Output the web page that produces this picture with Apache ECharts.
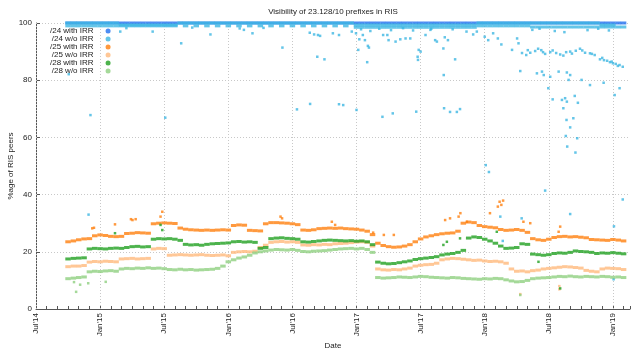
<!DOCTYPE html>
<html>
<head>
<meta charset="utf-8">
<script src="https://cdn.jsdelivr.net/npm/echarts@6/dist/echarts.min.js"></script>
<style>
    html, body { margin: 0; padding: 0; background: #fff; }
    #main { width: 640px; height: 352px; }
</style>
</head>
<body>
<div id="main"></div>
<script>
    // one sample on the 1st and the 16th of each month, i=0 is 1 Oct 2014, i=104 is 1 Feb 2019
    // x axis is counted in months since Jul 2014
    var firstSampleMonth = 3;
    var monthNames = ['Jan','Feb','Mar','Apr','May','Jun','Jul','Aug','Sep','Oct','Nov','Dec'];
    var gridMonths = [0, 6, 12, 18, 24, 30, 36, 42, 48, 54];

    var names = ['/24 with IRR', '/24 w/o IRR', '/25 with IRR', '/25 w/o IRR', '/28 with IRR', '/28 w/o IRR'];
    var colors = ['#1f6ff0', '#3db6e2', '#ff7f0e', '#ffb97c', '#21a021', '#8fd07f'];

    var with24 = [
        100,100,100,100,100,100,100,100,100,100,100,100,100,100,100,100,100,100,100,100,100,
        100,100,100,100,100,100,100,100,100,100,100,100,100,100,100,100,100,100,100,100,100,
        100,100,100,100,100,100,100,100,100,100,100,100,100,100,100,100,100,100,100,100,100,
        100,100,100,100,100,100,100,100,100,100,100,100,100,100,100,100,100,100,100,100,100,
        100,100,100,100,100,100,100,100,100,100,100,100,100,100,100,100,100,100,100,100,100
    ];
    var without24 = [
        100,100,100,100,100,100,100,100,100,100,99.3,99.3,99.3,99.3,99.3,99.3,99.3,99.3,99.3,99.3,99.3,
        100,100,100,100,100,100,100,100,100,100,100,100,100,100,100,100,100,100,100,100,100,
        100,100,100,100,100,100,100,100,100,100,100,100,99.3,99.3,99.3,99.3,99.3,99.3,99.3,99.3,99.3,
        99.3,99.3,99.3,99.3,99.3,99.3,99.3,99.3,99.3,99.3,99.3,99.3,99.3,99.3,100,100,100,100,100,
        100,100,100,100,100,100,100,100,100,100,100,100,100,100,100,100,100,100,99.3,99.3,99.3
    ];
    var without24Low = [
        99.0,99.0,99.0,99.0,99.0,99.0,99.0,99.0,99.0,99.0,99.0,99.0,99.0,99.0,99.0,99.0,99.0,99.0,99.0,99.0,99.0,
        null,99.0,null,99.0,null,99.0,null,99.0,null,99.0,null,99.0,null,99.0,null,99.0,null,99.0,null,99.0,null,
        99.0,null,99.0,null,99.0,null,99.0,null,99.0,null,99.0,null,98.5,98.5,98.5,98.5,98.5,98.5,98.5,98.5,98.5,
        98.5,98.5,98.5,98.5,98.5,98.5,98.5,98.5,98.5,98.5,98.5,98.5,98.5,98.5,99.0,99.0,99.0,99.0,99.0,
        99.0,99.0,99.0,99.0,99.0,98.6,98.6,98.6,98.6,98.6,98.6,98.6,98.6,98.6,98.6,98.6,98.6,98.6,98.6,98.6,98.6,98.6,98.6
    ];
    var with25 = [
        23.5,23.8,24.2,24.5,24.6,25.6,25.9,25.7,25.4,25.3,25.4,26.4,26.5,26.7,26.6,26.5,
        29.8,30.0,30.1,30.0,29.9,28.3,27.9,27.7,27.6,27.5,27.6,27.5,27.6,27.7,27.6,
        29.2,29.4,29.3,27.5,27.4,27.3,29.8,30.2,30.2,30.1,30.0,29.8,29.5,27.6,27.5,27.7,
        28.1,28.2,28.3,28.2,28.3,28.1,28.0,27.9,27.6,27.2,26.0,
        23.0,22.2,21.8,21.6,21.7,22.0,22.5,23.5,24.5,25.2,25.6,26.0,26.3,26.5,26.6,27.2,
        30.0,30.4,30.2,29.2,28.8,28.6,28.4,27.8,27.5,27.6,27.8,27.5,26.8,
        24.6,24.2,24.0,24.4,25.0,25.3,25.4,25.2,25.3,25.1,24.9,24.3,24.2,24.1,24.0,24.3,24.1,23.8
    ];
    var without25 = [
        14.8,15.0,15.0,15.2,16.4,16.6,16.5,16.7,16.6,16.5,17.5,17.6,17.7,17.5,17.6,17.7,
        21.0,21.2,21.1,18.8,18.9,19.0,18.9,18.8,18.9,19.0,18.8,18.7,18.8,18.9,18.6,
        19.8,20.0,20.1,20.0,20.2,21.5,22.3,23.3,23.5,23.6,23.4,23.5,23.3,
        22.4,22.3,22.5,22.4,22.6,22.5,22.8,22.9,23.0,23.2,23.4,23.5,23.3,22.0,
        14.0,13.7,13.6,13.8,13.7,14.0,14.3,15.0,15.3,15.5,15.6,16.0,17.2,17.5,17.7,17.6,17.4,
        17.2,17.0,17.1,16.8,16.6,16.7,16.5,16.0,14.0,13.2,13.3,13.0,13.4,13.6,
        14.0,14.2,14.4,14.6,14.8,14.7,14.5,14.3,13.5,13.2,13.0,14.0,14.3,14.2,14.1,13.8
    ];
    var with28 = [
        17.5,17.7,17.8,17.9,21.0,21.2,21.1,21.0,21.2,21.3,21.2,21.5,21.8,21.9,21.7,21.8,
        24.4,24.6,24.5,24.6,24.4,24.0,22.6,22.4,22.5,22.3,22.6,22.8,22.9,23.0,23.1,
        23.5,23.6,23.4,23.5,23.3,21.2,21.5,24.6,24.8,24.9,24.7,24.6,24.4,
        23.5,23.4,23.6,23.8,24.0,24.1,24.0,23.9,23.8,23.9,23.7,23.8,23.5,22.5,
        16.4,16.0,15.8,15.9,16.2,16.5,16.8,17.3,17.6,17.8,18.0,18.3,18.9,19.2,19.4,19.8,20.5,
        24.8,25.2,25.0,24.4,23.8,23.0,22.0,21.2,21.3,21.5,22.8,22.6,
        19.2,19.0,18.8,19.0,19.4,19.6,19.5,19.8,20.3,20.1,20.0,19.8,19.4,19.6,19.5,19.7,19.5,19.3
    ];
    var without28 = [
        10.6,10.8,11.0,11.2,13.0,13.2,13.1,13.3,13.4,13.2,
        14.0,14.2,14.1,14.3,14.2,14.4,14.2,14.3,14.1,
        13.8,13.7,13.9,13.7,13.8,13.6,13.7,13.8,13.9,14.2,15.0,
        16.5,17.2,17.8,18.2,18.8,19.6,20.0,20.3,20.6,20.8,20.7,20.6,20.8,20.5,
        20.1,20.0,20.2,20.3,20.4,20.6,20.8,21.0,21.1,21.2,21.0,21.2,20.8,19.8,
        11.0,10.8,10.9,11.0,11.2,11.1,11.0,11.2,11.4,11.3,11.1,11.0,10.9,10.8,11.0,10.9,10.7,
        10.6,10.5,10.4,10.6,10.5,10.7,10.6,10.2,9.8,9.5,9.6,10.0,10.6,10.8,10.9,11.0,11.2,
        11.4,11.3,11.5,11.3,11.2,11.4,11.3,11.2,11.4,11.3,11.1,11.2,11.0
    ];

    // single days away from the main tracks
    var without24Dots = [
        ['2014-10-03',82.1],['2014-12-04',67.8],['2014-11-29',33.0],['2015-02-28',97.0],['2015-03-15',98.2],
        ['2015-05-29',97.0],['2015-07-04',66.9],['2015-08-19',92.9],['2015-09-20',98.4],['2015-11-11',96.0],
        ['2016-02-03',98.1],['2016-02-15',97.6],['2016-03-09',96.4],['2016-04-10',98.3],['2016-06-03',91.4],
        ['2016-07-14',69.8],['2016-08-21',71.7],['2016-08-20',96.6],['2016-09-02',96.0],['2016-09-13',95.8],
        ['2016-09-19',95.5],['2016-09-11',88.2],['2016-10-01',87.3],['2016-10-25',96.4],['2016-11-12',95.8],
        ['2016-11-24',71.3],['2016-11-12',71.6],['2016-12-18',97.0],['2016-12-30',96.4],['2017-01-09',94.3],
        ['2017-01-01',69.6],['2017-01-06',90.6],['2017-01-14',97.8],['2017-01-19',95.8],['2017-01-25',94.0],
        ['2017-02-03',92.0],['2017-02-06',91.4],['2017-02-01',86.3],['2017-02-10',97.2],['2017-03-05',98.0],
        ['2017-03-16',95.8],['2017-03-28',95.8],['2017-04-01',94.0],['2017-03-14',67.2],['2017-04-13',68.4],
        ['2017-04-08',97.5],['2017-04-21',93.5],['2017-05-04',94.3],['2017-05-12',98.2],['2017-05-19',94.6],
        ['2017-06-02',94.6],['2017-06-10',97.4],['2017-06-19',69.0],['2017-06-26',90.6],['2017-07-01',90.0],
        ['2017-06-23',88.2],['2017-06-24',87.1],['2017-07-15',95.8],['2017-07-29',97.6],['2017-08-01',98.0],
        ['2017-08-12',94.0],['2017-08-17',93.5],['2017-09-05',91.1],['2017-09-06',81.8],['2017-09-07',70.2],
        ['2017-09-24',68.9],['2017-10-13',68.9],['2017-10-22',69.9],['2017-10-08',87.3],['2017-09-09',95.0],
        ['2017-09-18',94.0],['2017-10-01',97.8],['2017-11-10',97.0],['2017-11-29',96.0],['2017-12-09',97.0],
        ['2018-01-01',95.2],['2018-01-11',94.0],['2018-01-25',96.4],['2018-02-08',94.6],['2018-02-18',92.5],
        ['2018-01-04',50.3],['2018-01-13',47.9],['2018-03-18',90.6],['2018-04-02',94.6],['2018-04-06',92.9],
        ['2018-04-16',89.5],['2018-04-28',88.8],['2018-05-02',90.5],['2018-05-09',89.6],['2018-05-15',97.6],
        ['2018-05-23',90.2],['2018-06-01',91.0],['2018-06-05',98.0],['2018-06-10',90.5],['2018-06-15',89.8],
        ['2018-06-21',89.2],['2018-07-05',89.8],['2018-07-12',90.4],['2018-07-18',97.2],['2018-07-22',89.5],
        ['2018-08-03',89.0],['2018-08-12',88.6],['2018-08-15',96.8],['2018-08-20',89.8],['2018-09-01',90.0],
        ['2018-09-06',89.3],['2018-09-17',90.3],['2018-09-29',91.0],['2018-10-05',90.4],['2018-10-13',89.6],
        ['2018-10-20',97.5],['2018-10-27',89.4],['2018-11-02',89.2],['2018-11-10',88.8],['2018-11-20',98.0],
        ['2018-11-25',87.3],['2018-12-01',87.8],['2018-12-06',87.0],['2018-12-15',86.8],['2018-12-20',97.4],
        ['2018-12-23',86.3],['2018-12-28',86.5],['2019-01-01',85.9],['2019-01-09',85.7],['2019-01-15',85.0],
        ['2019-01-20',85.3],['2019-01-29',84.7],
        ['2018-04-11',83.2],['2018-05-28',82.4],['2018-06-12',83.0],['2018-06-17',81.8],['2018-07-05',81.2],
        ['2018-07-29',83.0],['2018-08-22',82.7],['2018-09-01',81.8],['2018-08-27',80.1],['2018-06-30',77.2],
        ['2018-07-12',73.3],['2018-08-08',73.1],['2018-08-17',73.7],['2018-08-22',72.5],['2018-08-12',70.2],
        ['2018-09-14',74.5],['2018-09-23',72.1],['2018-08-21',66.1],['2018-09-10',66.7],['2018-09-01',63.5],
        ['2018-08-19',60.5],['2018-09-21',59.7],['2018-08-23',56.8],['2018-09-16',54.7],['2018-10-27',78.3],
        ['2018-12-05',79.1],['2019-01-06',74.8],['2019-01-20',77.2],['2018-10-03',80.1],['2018-06-21',41.4],
        ['2019-01-29',38.3],['2018-09-01',33.2],['2019-01-04',28.9],['2018-02-15',32.3],['2018-02-22',23.8],
        ['2018-04-15',31.7],['2019-01-03',10.4]
    ];
    var with25Dots = [
        ['2014-12-09',28.2],['2014-12-14',28.4],['2015-02-13',29.6],['2015-03-28',31.4],['2015-04-02',31.1],
        ['2015-04-11',31.4],['2015-06-21',32.3],['2015-06-26',34.0],['2016-05-28',32.3],['2016-06-02',31.7],
        ['2016-10-22',30.5],['2016-11-01',29.4],['2017-02-18',26.7],['2017-03-18',25.9],['2017-04-16',25.9],
        ['2017-09-10',31.1],['2017-09-24',31.7],['2017-10-18',32.3],['2017-10-23',33.5],['2017-11-11',30.5],
        ['2018-01-16',33.5],['2018-02-08',35.8],['2018-02-13',37.5],['2018-02-18',36.4],['2018-02-23',37.9],
        ['2018-04-20',30.5],['2018-05-09',30.0],['2018-07-29',27.0],['2018-08-03',28.8]
    ];
    var without25Dots = [
        ['2018-04-11',5.2],['2018-07-31',8.0],['2018-07-31',6.9]
    ];
    var with28Dots = [
        ['2015-02-13',26.5],['2015-06-21',29.4],['2015-06-26',27.6],['2017-09-05',22.4],['2017-09-15',23.5],
        ['2017-10-22',24.7],['2018-02-05',27.0],['2018-06-02',16.5],['2018-08-03',7.2]
    ];
    var without28Dots = [
        ['2014-10-18',9.4],['2014-11-05',8.5],['2014-11-28',9.0],['2014-10-24',6.0],['2015-01-17',9.5],
        ['2018-04-11',4.9]
    ];

    function toMonth(s) {
        var p = s.split('-');
        return (p[0] - 2014) * 12 + (p[1] - 7) + (p[2] - 1) / 30.44;
    }
    function monthLabel(m) {
        var k = m + 6;
        return monthNames[k % 12] + "'" + String(2014 + Math.floor(k / 12)).slice(2);
    }
    function build(tracks, dots) {
        var out = [];
        tracks.forEach(function (track) {
            track.forEach(function (v, i) {
                if (v == null) return;
                out.push({ value: [firstSampleMonth + i / 2, v], symbolSize: [5.5, 3] });
            });
        });
        dots.forEach(function (p) {
            out.push({ value: [toMonth(p[0]), p[1]], symbolSize: [2.5, 2.5] });
        });
        return out;
    }

    var seriesData = [
        build([with24], []),
        build([without24, without24Low], without24Dots),
        build([with25], with25Dots),
        build([without25], without25Dots),
        build([with28], with28Dots),
        build([without28], without28Dots)
    ];

    var font = 'Liberation Sans';
    var myChart = echarts.init(document.getElementById('main'));
    var option = {
        backgroundColor: '#fff',
        animation: false,
        textStyle: { fontFamily: font },
        title: {
            text: 'Visibility of 23.128/10 prefixes in RIS',
            left: 328,
            top: 3,
            textAlign: 'center',
            textStyle: { fontSize: 8, fontWeight: 'normal', color: '#222', fontFamily: font }
        },
        legend: {
            data: names,
            orient: 'vertical',
            left: 50,
            top: 27,
            align: 'right',
            icon: 'circle',
            itemWidth: 5,
            itemHeight: 5,
            itemGap: 0,
            padding: 0,
            textStyle: { fontSize: 8, lineHeight: 7.5, color: '#222', fontFamily: font, padding: [0, 7, 0, 0] }
        },
        grid: { left: 36, right: 10, top: 23, bottom: 43, outerBoundsMode: 'none' },
        xAxis: {
            type: 'value',
            min: 0,
            max: 55.6,
            interval: 1,
            name: 'Date',
            nameLocation: 'middle',
            nameGap: 33,
            nameMoveOverlap: false,
            nameTextStyle: { fontSize: 8, color: '#222' },
            axisLine: { lineStyle: { color: '#555' } },
            axisTick: { inside: true, length: 3, lineStyle: { color: '#555' } },
            splitLine: { show: false },
            axisLabel: {
                rotate: 90,
                fontSize: 8,
                color: '#222',
                margin: 4,
                formatter: function (v) {
                    return (v % 6 === 0) ? monthLabel(v) : '';
                }
            }
        },
        yAxis: {
            type: 'value',
            min: 0,
            max: 100,
            interval: 20,
            name: '%age of RIS peers',
            nameLocation: 'middle',
            nameGap: 21,
            nameMoveOverlap: false,
            nameTextStyle: { fontSize: 8, color: '#222' },
            axisLine: { show: true, lineStyle: { color: '#555' } },
            axisTick: { show: true, inside: true, length: 4, lineStyle: { color: '#555' } },
            axisLabel: { fontSize: 8, color: '#222', margin: 4 },
            splitLine: { lineStyle: { color: '#c8c8c8', type: [1, 2] } }
        },
        series: names.map(function (n, k) {
            var s = {
                name: n,
                type: 'scatter',
                symbol: 'rect',
                data: seriesData[k],
                itemStyle: { color: colors[k] },
                emphasis: { disabled: true }
            };
            if (k === 0) {
                s.markLine = {
                    silent: true,
                    symbol: 'none',
                    z: 1,
                    label: { show: false },
                    lineStyle: { color: '#c8c8c8', type: [1, 2], width: 1 },
                    data: gridMonths.map(function (m) { return { xAxis: m }; })
                };
            }
            return s;
        })
    };
    myChart.setOption(option);
</script>
</body>
</html>
